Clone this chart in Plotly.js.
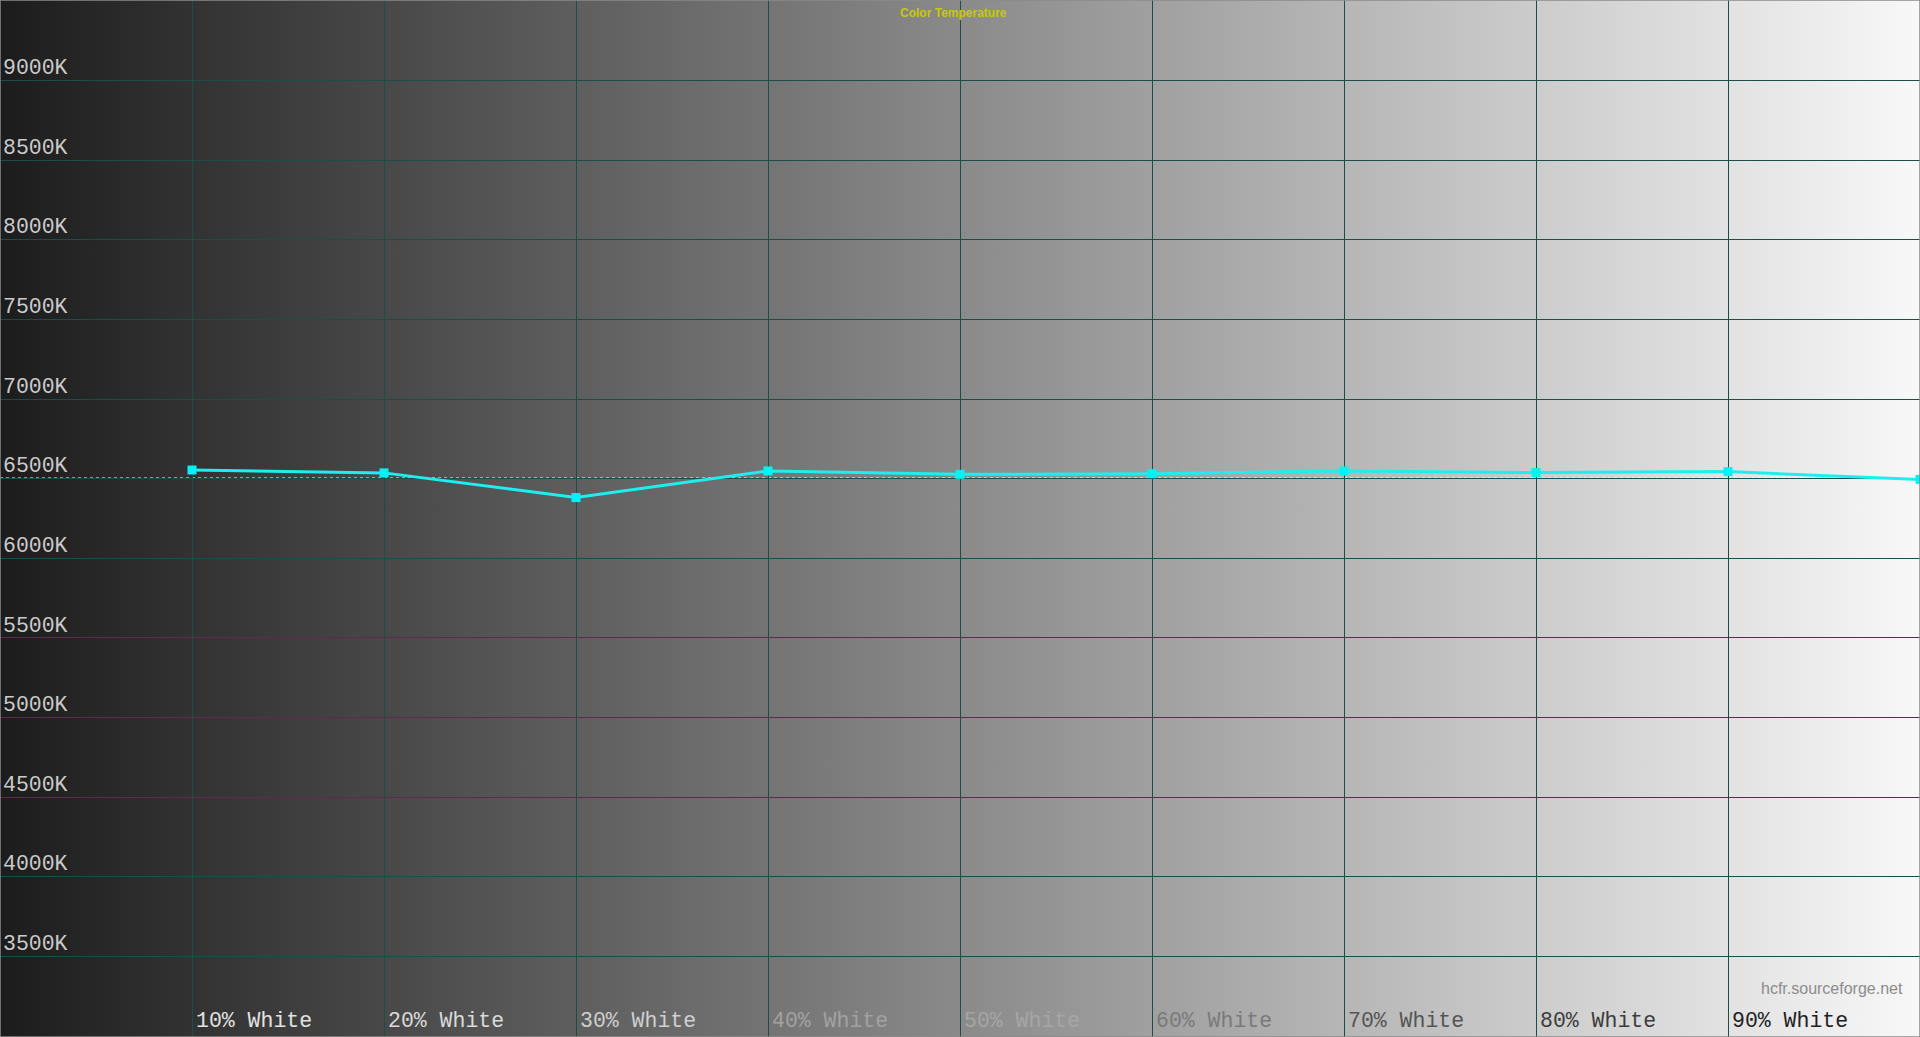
<!DOCTYPE html>
<html>
<head>
<meta charset="utf-8">
<script src="https://cdn.plot.ly/plotly-3.0.1.min.js"></script>
<style>
  html, body { margin: 0; padding: 0; overflow: hidden; background: #1c1c1c; }
  #chart {
    width: 1920px; height: 1037px;
    background: linear-gradient(to right, #1c1c1c 0%, #f8f8f8 100%);
  }
</style>
</head>
<body>
<div id="chart"></div>
<script>
// grey steps measured, 10%..90% plus the 100% point at the right edge
const steps = [1, 2, 3, 4, 5, 6, 7, 8, 9, 10];
const stepLabels = ['10% White', '20% White', '30% White', '40% White', '50% White',
                    '60% White', '70% White', '80% White', '90% White', ''];
const cct = [6555, 6537, 6382, 6549, 6528, 6532, 6549, 6539, 6545, 6496];
const target = 6504; // D65
const yTicks = [3500, 4000, 4500, 5000, 5500, 6000, 6500, 7000, 7500, 8000, 8500, 9000];

// label colours change with the background underneath
const labelColors = ['#e2e2e2', '#dadada', '#cfcfcf', '#a2a2a2', '#a6a6a6',
                     '#7a7a7a', '#555555', '#3c3c3c', '#222222', '#222222'];

const gridColor = '#1b4d4d';

const trace = {
  x: steps, y: cct, type: 'scatter', mode: 'lines+markers',
  line: {color: '#1eeef0', width: 3},
  marker: {color: '#00f4f6', symbol: 'square', size: 9},
  cliponaxis: true, hoverinfo: 'skip'
};

const layout = {
  width: 1920, height: 1037,
  margin: {l: 0, r: 0, t: 0, b: 0},
  paper_bgcolor: 'rgba(0,0,0,0)',
  plot_bgcolor: 'rgba(0,0,0,0)',
  showlegend: false,
  title: {
    text: 'Color Temperature',
    font: {family: 'Liberation Sans, Arial', size: 12, color: '#c9c90a', weight: 'bold'},
    x: 0.4965, xanchor: 'center', yref: 'container', y: 0.988, yanchor: 'middle'
  },
  xaxis: {
    range: [0, 10], fixedrange: true,
    tickmode: 'array', tickvals: steps,
    ticktext: stepLabels.map((t, i) => '<span style="color:' + labelColors[i] + '">' + t + '</span>'),
    ticklabelposition: 'inside right',
    ticklabelshift: 4,
    ticks: '', showline: false, zeroline: false,
    showgrid: true, gridcolor: gridColor, gridwidth: 1,
    tickfont: {family: 'Liberation Mono, Courier New, monospace', size: 21.5, color: '#dddddd'}
  },
  yaxis: {
    range: [2994, 9507], fixedrange: true,
    tickmode: 'array', tickvals: yTicks,
    ticktext: yTicks.map(v => v + 'K'),
    ticklabelposition: 'inside',
    ticklabelshift: -14,
    ticks: '', showline: false, zeroline: false,
    showgrid: true, gridcolor: gridColor, gridwidth: 1,
    tickfont: {family: 'Liberation Mono, Courier New, monospace', size: 21.5, color: '#cacaca'}
  },
  shapes: [
    {type: 'line', xref: 'paper', x0: 0, x1: 1, yref: 'y', y0: target, y1: target,
     line: {color: '#ffffff', width: 1.5, dash: 'dot'}, layer: 'below'},
    {type: 'rect', xref: 'paper', yref: 'paper', x0: 0, x1: 1, y0: 0, y1: 1,
     line: {color: '#8a8a8a', width: 1.5}}
  ],
  annotations: [{
    text: 'hcfr.sourceforge.net', xref: 'paper', yref: 'paper',
    x: 0.954, y: 0.047, xanchor: 'center', yanchor: 'middle', showarrow: false,
    font: {family: 'Liberation Sans, Arial', size: 16, color: '#8c8c8c'}
  }]
};

Plotly.newPlot('chart', [trace], layout, {displayModeBar: false, staticPlot: true});
</script>
</body>
</html>
